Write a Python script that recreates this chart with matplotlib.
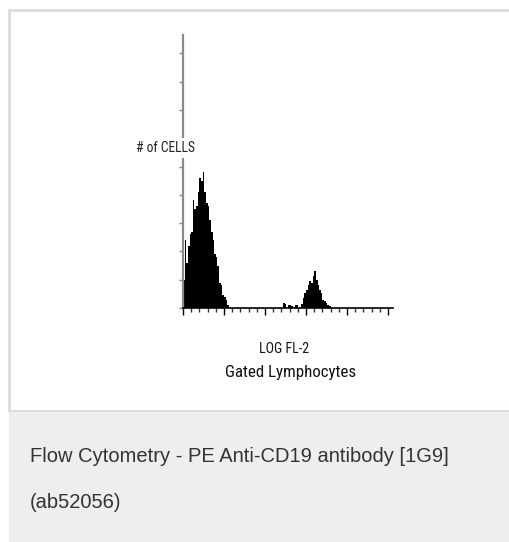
import matplotlib
matplotlib.use("Agg")
import matplotlib.pyplot as plt
from matplotlib.patches import Rectangle
from matplotlib import font_manager
import numpy as np

# Histogram data (x in log decades of FL-2, y in tick units of "# of CELLS")
bin_width = 0.04
neg_start = 0.0
neg_counts = [1.0, 2.4, 1.6, 2.2, 2.6, 2.7, 3.8, 3.5, 3.6, 4.1, 4.6, 4.5, 4.8, 4.1,
              3.7, 3.6, 3.1, 2.7, 2.4, 1.9, 1.8, 1.5, 0.9, 0.8, 0.46, 0.4, 0.3, 0.1]
pos_start = 2.44
pos_counts = [0.18, 0.14, 0.0, 0.1, 0.1, 0.07, 0.0, 0.1, 0.1, 0.0, 0.0, 0.14, 0.35,
              0.53, 0.64, 0.81, 0.95, 0.88, 1.13, 1.3, 0.99, 0.81, 0.64, 0.53, 0.28,
              0.25, 0.18, 0.1, 0.07]
stray_x = [4.07]
stray_counts = [0.14]

x_label = "LOG FL-2"
gate_label = "Gated Lymphocytes"
y_label = "# of CELLS"
caption = ["Flow Cytometry - PE Anti-CD19 antibody [1G9]", "(ab52056)"]


def pick_font(names):
    """Return the first installed family from names."""
    have = {f.name for f in font_manager.fontManager.ttflist}
    for n in names:
        if n in have:
            return n
    return "DejaVu Sans"


narrow = pick_font(["Liberation Sans Narrow", "Roboto Condensed", "DejaVu Sans Condensed", "Liberation Sans"])
sans = pick_font(["Liberation Sans", "Arial", "DejaVu Sans"])

W, H = 510, 542
fig = plt.figure(figsize=(W / 100, H / 100), dpi=100)


def fx(px):
    return px / W


def fy(py):
    return 1 - py / H


# card background: white panel with light border (runs off the right edge), grey caption strip
fig.patches.append(Rectangle((fx(9), fy(411)), 1.2, 401 / H, transform=fig.transFigure,
                             facecolor="white", edgecolor="#dcdcdc", lw=2, zorder=-3))
fig.patches.append(Rectangle((fx(9), -0.01), 1.2, fy(411) + 0.01, transform=fig.transFigure,
                             facecolor="#edeeee", edgecolor="none", zorder=-2))
fig.patches.append(Rectangle((fx(9), fy(412)), 1.2, 1.5 / H, transform=fig.transFigure,
                             facecolor="#dcdddd", edgecolor="none", zorder=-2))

ax = fig.add_axes([fx(183), fy(308), fx(393 - 183), (308 - 35) / H])
ax.set_facecolor("none")

edges1 = neg_start + bin_width * np.arange(len(neg_counts) + 1)
edges2 = pos_start + bin_width * np.arange(len(pos_counts) + 1)
ax.stairs(neg_counts, edges1, fill=True, color="black", lw=0)
ax.stairs(pos_counts, edges2, fill=True, color="black", lw=0)
ax.bar(stray_x, stray_counts, width=bin_width / 2, color="black", lw=0)

ax.set_xlim(0, 5.12)
ax.set_ylim(0, 9.65)
ax.spines["top"].set_visible(False)
ax.spines["right"].set_visible(False)
ax.spines["left"].set_color("#8a8a8a")
ax.spines["left"].set_linewidth(1.6)
ax.spines["bottom"].set_color("black")
ax.spines["bottom"].set_linewidth(1.2)

ax.set_xticks(np.arange(0, 5.01, 1))
ax.set_xticks(np.arange(0, 5.01, 0.2), minor=True)
ax.tick_params(axis="x", which="major", length=5, width=1, color="black", labelbottom=False)
ax.tick_params(axis="x", which="minor", length=3, width=1, color="#333333")
ax.set_yticks(np.arange(0, 9.1, 1))
ax.tick_params(axis="y", length=3, width=1, color="#888888", labelleft=False)

# axis labels as in the scanned figure
fig.text(fx(166), fy(148), y_label, family=narrow, fontsize=9.8, color="#222222",
         ha="center", va="center", zorder=5,
         bbox=dict(facecolor="white", edgecolor="none", pad=2))
fig.text(fx(284), fy(353), x_label, family=narrow, fontsize=10, color="#111111",
         ha="center", va="baseline")
fig.text(fx(291), fy(377), gate_label, family=narrow, fontsize=12.2, color="#111111",
         ha="center", va="baseline")

fig.text(fx(30), fy(462), caption[0], family=sans, fontsize=14.5, color="#333333",
         ha="left", va="baseline", zorder=3)
fig.text(fx(30), fy(508), caption[1], family=sans, fontsize=14.5, color="#333333",
         ha="left", va="baseline", zorder=3)

fig.savefig("out.png", dpi=100)
